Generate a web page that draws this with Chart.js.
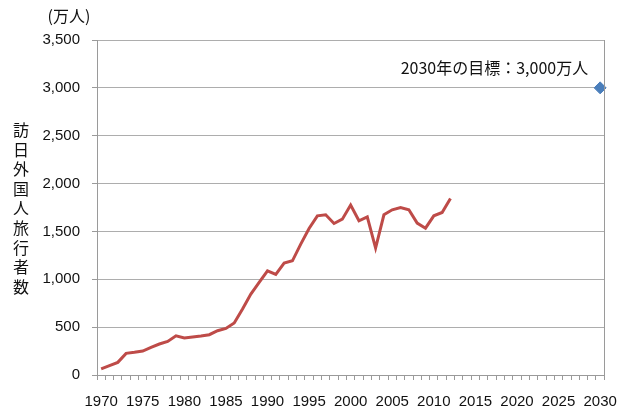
<!DOCTYPE html>
<html>
<head>
<meta charset="utf-8">
<script src="https://cdn.jsdelivr.net/npm/chart.js@4"></script>
<style>
  html, body { margin: 0; padding: 0; background: #fff; }
  #wrap { width: 630px; height: 416px; }
</style>
</head>
<body>
<div id="wrap"><canvas id="myChart" width="630" height="416"></canvas></div>
<script>
// years on the category axis
const years = [];
for (let y = 1970; y <= 2030; y++) years.push(String(y));

// visitors, 万人 (1970 - 2012)
const visitors = [63, 97, 132, 226, 237, 250, 289, 324, 351, 410,
    386, 397, 407, 421, 463, 487, 543, 689, 846, 967,
    1089, 1051, 1169, 1193, 1367, 1531, 1663, 1674, 1583, 1628,
    1775, 1611, 1653, 1326, 1674, 1726, 1750, 1726, 1587, 1534,
    1663, 1698, 1844];

const targetYear = '2030';
const targetValue = 3000;
const targetNote = '2030年の目標：3,000万人';

const yTitle = '訪日外国人旅行者数';
const yUnit = '(万人)';
const yTicks = [0, 500, 1000, 1500, 2000, 2500, 3000, 3500];

const lineData = years.map((y, i) => i < visitors.length ? visitors[i] : null);
const targetData = years.map(y => y === targetYear ? targetValue : null);

const jp = '"Noto Sans CJK JP", "Noto Sans", sans-serif';

const decor = {
    id: 'decor',
    afterDraw(chart) {
        const c = chart.ctx;
        const area = chart.chartArea;
        c.save();
        // right border of plot area
        c.strokeStyle = '#9a9a9a';
        c.lineWidth = 1;
        c.beginPath();
        c.moveTo(Math.round(area.right) + 0.5, area.top);
        c.lineTo(Math.round(area.right) + 0.5, area.bottom);
        c.stroke();

        c.fillStyle = '#111';
        c.textAlign = 'center';
        c.textBaseline = 'middle';
        c.font = '16px ' + jp;
        // vertical title, one char per line
        const chars = Array.from(yTitle);
        chars.forEach((ch, i) => c.fillText(ch, 21, 130 + i * 19.6));
        c.font = '16px ' + jp;
        c.fillText(yUnit, 69, 16);

        // note above the target point
        const xs = chart.scales.x, ys = chart.scales.y;
        c.textAlign = 'right';
        c.font = '16px ' + jp;
        c.fillText(targetNote, xs.getPixelForValue(years.indexOf(targetYear)) - 12,
            ys.getPixelForValue(targetValue) - 20);
        c.restore();
    }
};

var ctx = document.getElementById('myChart').getContext('2d');
var myChart = new Chart(ctx, {
    type: 'line',
    data: {
        labels: years,
        datasets: [{
            label: '訪日外国人旅行者数',
            data: lineData,
            borderColor: '#be4b48',
            borderWidth: 3,
            pointRadius: 0,
            tension: 0,
            spanGaps: false
        }, {
            label: '目標',
            data: targetData,
            borderColor: '#4a7ebb',
            backgroundColor: '#4a7ebb',
            showLine: false,
            pointStyle: 'rectRot',
            pointRadius: 6,
            pointBorderWidth: 1
        }]
    },
    options: {
        responsive: false,
        animation: false,
        layout: { padding: { top: 40, right: 22, bottom: 0, left: 0 } },
        plugins: {
            legend: { display: false },
            tooltip: { enabled: false }
        },
        scales: {
            x: {
                offset: true,
                grid: {
                    offset: true,
                    drawOnChartArea: false,
                    drawTicks: true,
                    tickLength: 5,
                    color: '#9a9a9a'
                },
                border: { color: '#9a9a9a' },
                ticks: {
                    autoSkip: false,
                    maxRotation: 0,
                    padding: 13,
                    color: '#111',
                    font: { family: 'Liberation Sans', size: 15 },
                    callback: function (v, i) {
                        const y = Number(years[i]);
                        return (y % 5 === 0) ? years[i] : '';
                    }
                },
                afterFit: function (s) { s.height = 41; }
            },
            y: {
                min: 0,
                max: 3500,
                afterBuildTicks: function (s) { s.ticks = yTicks.map(v => ({ value: v })); },
                grid: {
                    color: '#adadad',
                    tickLength: 5,
                    tickColor: '#9a9a9a'
                },
                border: { color: '#9a9a9a' },
                ticks: {
                    padding: 12,
                    color: '#111',
                    font: { family: 'Liberation Sans', size: 15 },
                    callback: v => v.toLocaleString('en-US')
                },
                afterFit: function (s) { s.width = 97; }
            }
        }
    },
    plugins: [decor]
});
</script>
</body>
</html>
